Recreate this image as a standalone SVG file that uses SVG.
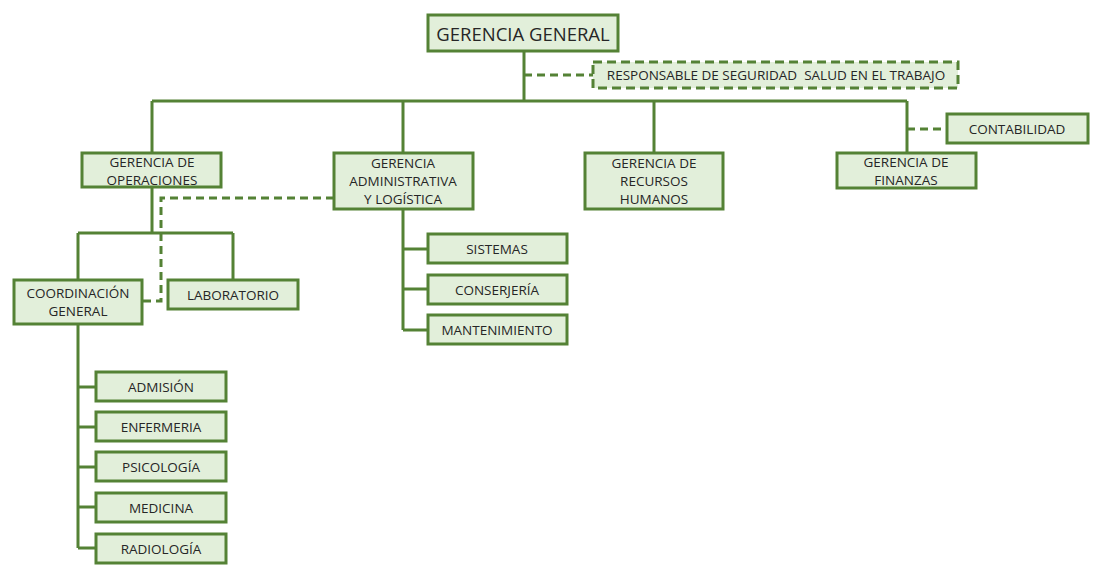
<svg xmlns="http://www.w3.org/2000/svg" width="1103" height="575" viewBox="0 0 1103 575">
<style>
.box{fill:#e2efda;stroke:#548235;stroke-width:3}
.dbox{fill:#e2efda;stroke:#548235;stroke-width:3;stroke-dasharray:9 5}
.ln{fill:none;stroke:#548235;stroke-width:3}
.dl{fill:none;stroke:#548235;stroke-width:3;stroke-dasharray:8 5}
text{font-family:"Open Sans","Liberation Sans",sans-serif;font-size:13.5px;fill:#262626;text-anchor:middle;dominant-baseline:central}
</style>
<rect width="1103" height="575" fill="#fff"/>
<g id="connectors">
<path class="ln" d="M524 51V101M152 101H907M152 101V153M403 101V153M654 101V153M907 101V153"/>
<path class="dl" d="M524 75H593"/>
<path class="dl" d="M907 129H948"/>
<path class="ln" d="M152 188V233M78 233H233M78 233V280M233 233V280"/>
<path class="dl" d="M334 198H161V301H143"/>
<path class="ln" d="M403 209V330M403 249H428M403 289H428M403 330H428"/>
<path class="ln" d="M78 325V548M78 387H96M78 427H96M78 467H96M78 507H96M78 548H96"/>
</g>
<g id="gg"><rect class="box" x="428" y="15" width="190" height="36"/><text x="523" y="33" style="font-size:18.5px">GERENCIA GENERAL</text></g>
<g id="resp"><rect class="dbox" x="593" y="62" width="365" height="26"/><text x="776" y="75" xml:space="preserve">RESPONSABLE DE SEGURIDAD  SALUD EN EL TRABAJO</text></g>
<g id="op"><rect class="box" x="82" y="153" width="139" height="34"/><text x="152" y="162">GERENCIA DE</text><text x="152" y="180">OPERACIONES</text></g>
<g id="adm"><rect class="box" x="334" y="153" width="139" height="56"/><text x="403" y="163">GERENCIA</text><text x="403" y="181">ADMINISTRATIVA</text><text x="403" y="199">Y LOGÍSTICA</text></g>
<g id="rrhh"><rect class="box" x="585" y="153" width="138" height="56"/><text x="654" y="163">GERENCIA DE</text><text x="654" y="181">RECURSOS</text><text x="654" y="199">HUMANOS</text></g>
<g id="fin"><rect class="box" x="837" y="153" width="139" height="35"/><text x="906" y="162">GERENCIA DE</text><text x="906" y="180">FINANZAS</text></g>
<g id="cont"><rect class="box" x="947" y="114" width="141" height="29"/><text x="1017" y="128.5">CONTABILIDAD</text></g>
<g id="coord"><rect class="box" x="14" y="280" width="128" height="44"/><text x="78" y="293">COORDINACIÓN</text><text x="78" y="311">GENERAL</text></g>
<g id="lab"><rect class="box" x="168" y="280" width="130" height="29"/><text x="233" y="294.5">LABORATORIO</text></g>
<g id="sis"><rect class="box" x="428" y="234" width="139" height="29"/><text x="497" y="248.5">SISTEMAS</text></g>
<g id="con"><rect class="box" x="428" y="275" width="139" height="29"/><text x="497" y="289.5">CONSERJERÍA</text></g>
<g id="man"><rect class="box" x="428" y="315" width="139" height="29"/><text x="497" y="329.5">MANTENIMIENTO</text></g>
<g id="admi"><rect class="box" x="96" y="372" width="130" height="29"/><text x="161" y="386.5">ADMISIÓN</text></g>
<g id="enf"><rect class="box" x="96" y="412" width="130" height="29"/><text x="161" y="426.5">ENFERMERIA</text></g>
<g id="psi"><rect class="box" x="96" y="452" width="130" height="29"/><text x="161" y="466.5">PSICOLOGÍA</text></g>
<g id="med"><rect class="box" x="96" y="493" width="130" height="29"/><text x="161" y="507.5">MEDICINA</text></g>
<g id="rad"><rect class="box" x="96" y="534" width="130" height="29"/><text x="161" y="548.5">RADIOLOGÍA</text></g>
</svg>
